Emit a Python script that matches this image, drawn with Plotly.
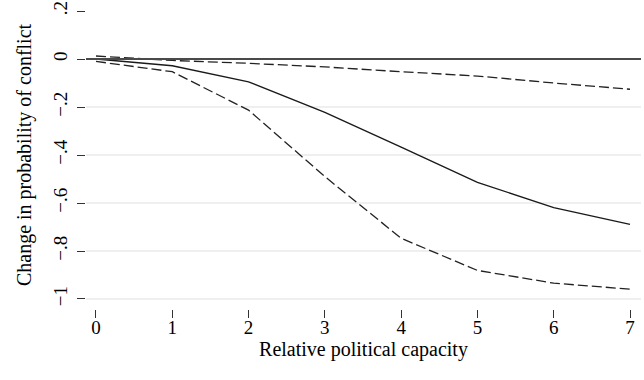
import plotly.graph_objects as go

capacity = [0, 1, 2, 3, 4, 5, 6, 7]
effect = [0.0, -0.028, -0.095, -0.222, -0.367, -0.514, -0.619, -0.689]
upper_ci = [0.0125, -0.006, -0.018, -0.033, -0.053, -0.071, -0.100, -0.126]
lower_ci = [-0.010, -0.053, -0.213, -0.490, -0.747, -0.881, -0.934, -0.959]

y_tick_vals = [0.2, 0, -0.2, -0.4, -0.6, -0.8, -1]
y_tick_text = [".2", "0", "\u2212.2", "\u2212.4", "\u2212.6", "\u2212.8", "\u22121"]
grid_vals = [0, -0.2, -0.4, -0.6, -0.8, -1]
x_tick_vals = [0, 1, 2, 3, 4, 5, 6, 7]

FONT = "Liberation Serif, Times New Roman, serif"

fig = go.Figure()

for gv in grid_vals:
    fig.add_hline(y=gv, line=dict(color="#eaeaea", width=1.5), layer="below")

fig.add_hline(y=0, line=dict(color="#4a4a4a", width=1.8), layer="above")

fig.add_trace(go.Scatter(x=capacity, y=upper_ci, mode="lines",
                         line=dict(color="#222222", width=1.3, dash="10px,4px"),
                         showlegend=False, hoverinfo="skip"))
fig.add_trace(go.Scatter(x=capacity, y=lower_ci, mode="lines",
                         line=dict(color="#222222", width=1.3, dash="10px,4px"),
                         showlegend=False, hoverinfo="skip"))
fig.add_trace(go.Scatter(x=capacity, y=effect, mode="lines",
                         line=dict(color="#1a1a1a", width=1.4),
                         showlegend=False))

fig.update_layout(
    width=644, height=380,
    margin=dict(l=86, r=3, t=1, b=71),
    paper_bgcolor="white", plot_bgcolor="white",
    font=dict(family=FONT, size=19, color="black"),
    xaxis=dict(
        range=[-0.131, 7.144], tickvals=x_tick_vals,
        ticks="outside", ticklen=8, tickwidth=1, tickcolor="#333",
        showgrid=False, zeroline=False, showline=False,
        tickfont=dict(family=FONT, size=19),
        ticklabelstandoff=-7,
        title=dict(text="Relative political capacity", font=dict(family=FONT, size=20), standoff=0),
        automargin=False,
    ),
    yaxis=dict(
        range=[-1.0417, 0.2417], tickvals=y_tick_vals, ticktext=y_tick_text,
        tickangle=-90,
        ticks="outside", ticklen=8, tickwidth=1, tickcolor="#333",
        showgrid=False, zeroline=False, showline=False,
        tickfont=dict(family=FONT, size=19),
        ticklabelstandoff=2, ticklabeloverflow="allow",
        title=dict(text="Change in probability of conflict", font=dict(family=FONT, size=20), standoff=13),
        automargin=False,
    ),
)

fig.write_html("out.html", config={"displayModeBar": False},
               post_script="document.body.style.margin='0';")
